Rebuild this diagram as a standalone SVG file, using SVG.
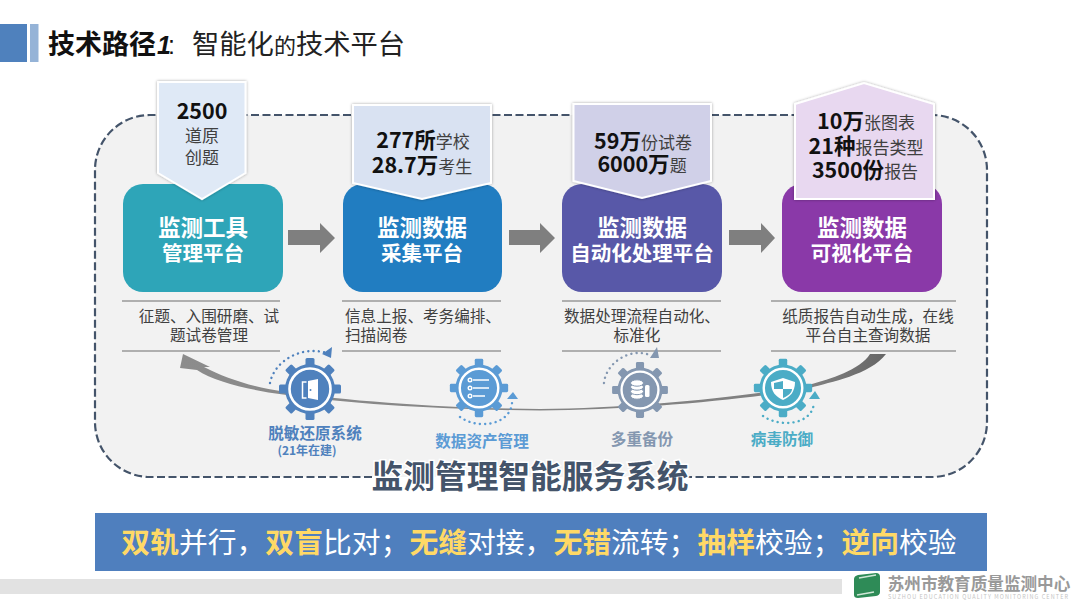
<svg xmlns="http://www.w3.org/2000/svg" xmlns:xlink="http://www.w3.org/1999/xlink" width="1080" height="608" viewBox="0 0 1080 608">
<style>
text{font-family:"Noto Sans CJK SC","Noto Sans",sans-serif;text-anchor:middle}
.nt{fill:#fff;font-weight:700}
.b{font-weight:700;fill:#111;font-size:21.500px}
.r{font-weight:400;fill:#404040;font-size:17px}
.call{stroke:#fff;stroke-width:2;filter:url(#sh)}
.d{font-size:15.6px;fill:#404040}
.rule{stroke:#999;stroke-width:1.6;fill:none}
.dots{fill:none;stroke-width:2.4;stroke-linecap:round;stroke-dasharray:.1 5.2}
.lab{font-weight:700;font-size:15.6px}
.y{fill:#ffd966;font-weight:700}
</style>
<defs>
<filter id="sh" x="-10%" y="-10%" width="120%" height="120%"><feDropShadow dx="0" dy="0" stdDeviation="1.4" flood-color="#000" flood-opacity=".35"/></filter>
<linearGradient id="tp" x1="0" x2="1" y1="0" y2="0"><stop offset="0" stop-color="#8c8c8c"/><stop offset=".9" stop-color="#7f7f7f"/><stop offset="1" stop-color="#666"/></linearGradient>
<g id="gear">
<g fill="currentColor">
<rect x="-4.5" y="-31" width="9" height="10" rx="1.5"/>
<rect x="-4.5" y="-31" width="9" height="10" rx="1.5" transform="rotate(45)"/>
<rect x="-4.5" y="-31" width="9" height="10" rx="1.5" transform="rotate(90)"/>
<rect x="-4.5" y="-31" width="9" height="10" rx="1.5" transform="rotate(135)"/>
<rect x="-4.5" y="-31" width="9" height="10" rx="1.5" transform="rotate(180)"/>
<rect x="-4.5" y="-31" width="9" height="10" rx="1.5" transform="rotate(225)"/>
<rect x="-4.5" y="-31" width="9" height="10" rx="1.5" transform="rotate(270)"/>
<rect x="-4.5" y="-31" width="9" height="10" rx="1.5" transform="rotate(315)"/>
<circle r="25"/>
</g>
<circle r="20.5" fill="currentColor" stroke="#fff" stroke-width="2.6"/>
</g>
</defs>

<rect width="1080" height="608" fill="#fff"/>
<g id="header">
<rect x="0" y="24" width="27" height="38" fill="#4f81bd"/>
<rect x="30" y="24" width="8.500" height="38" fill="#95b3d7"/>
<text y="54" style="text-anchor:start" fill="#111"><tspan x="48" font-size="27" font-weight="700">技术路径</tspan><tspan x="157" font-size="25" font-weight="700" font-style="italic" font-family="Liberation Sans">1</tspan><tspan x="168" font-size="25" font-family="Liberation Sans">:</tspan><tspan x="192" font-size="27.300" fill="#222">智能化</tspan><tspan font-size="22" fill="#222">的</tspan><tspan font-size="27.300" fill="#222">技术平台</tspan></text>
</g>

<path id="panel" d="M150 115H932A55 55 0 0 1 987 170V422A55 55 0 0 1 932 477H150A55 55 0 0 1 95 422V170A55 55 0 0 1 150 115Z" fill="#f2f2f2"/>
<path id="panel-border" d="M372 477H150A55 55 0 0 1 95 422V170A55 55 0 0 1 150 115H932A55 55 0 0 1 987 170V422A55 55 0 0 1 932 477H688" fill="none" stroke="#44546a" stroke-width="2.200" stroke-dasharray="8 3.500"/>

<g id="connectors">
<path id="c1" d="M288 230H320V223L335 238L320 253V245H288Z" fill="#7f7f7f"/>
<path id="c2" d="M509 230H540V223L555 238L540 253V245H509Z" fill="#7f7f7f"/>
<path id="c3" d="M729 230H761V223L775 238L761 253V245H729Z" fill="#7f7f7f"/>
<path id="c4" d="M870 354L886 354C870 375 830 382 810 388C760 398 640 410 540 410.500C450 410 350 404 283 394.500C250 390 215 382 197 370L180 368L183 354L210 367L204 367C225 378 255 388 283 391.500C350 401.500 450 408.500 540 409C640 408 760 395 810 384.500C830 379 860 370 870 354Z" fill="url(#tp)"/>
</g>

<g id="node1">
<rect x="123" y="184" width="160" height="108" rx="20" fill="#2ea5b8"/>
<text class="nt" x="203" y="236" font-size="22.500">监测工具</text>
<text class="nt" x="203" y="261" font-size="20.500">管理平台</text>
<path class="call" d="M158 82H245.500V173L202 199L158 173Z" fill="#dfe9f6"/>
<text class="b" x="202" y="119">2500</text>
<text class="r" x="202" y="142">道原</text>
<text class="r" x="202" y="164">创题</text>
<path class="rule" d="M122 301H280M122 351H280"/>
<text class="d" x="209" y="322">征题、入围研磨、试</text>
<text class="d" x="209" y="341">题试卷管理</text>
</g>

<g id="node2">
<rect x="343" y="184" width="159" height="108" rx="20" fill="#217dc1"/>
<text class="nt" x="422" y="236" font-size="22.500">监测数据</text>
<text class="nt" x="422" y="261" font-size="20.500">采集平台</text>
<path class="call" d="M353 105H491V183L422 199L353 183Z" fill="#d9e2f2"/>
<text x="423" y="148"><tspan class="b">277所</tspan><tspan class="r">学校</tspan></text>
<text x="422" y="173"><tspan class="b">28.7万</tspan><tspan class="r">考生</tspan></text>
<path class="rule" d="M342 301H501M342 351H501"/>
<text class="d" x="345" y="322" style="text-anchor:start">信息上报、考务编排、</text>
<text class="d" x="345" y="341" style="text-anchor:start">扫描阅卷</text>
</g>

<g id="node3">
<rect x="562" y="184" width="160" height="108" rx="20" fill="#5858a8"/>
<text class="nt" x="642" y="236" font-size="22.500">监测数据</text>
<text class="nt" x="642" y="261" font-size="20.500">自动化处理平台</text>
<path class="call" d="M573.500 104H711V181L642 198L573.500 181Z" fill="#d0d0e8"/>
<text x="643" y="149"><tspan class="b">59万</tspan><tspan class="r">份试卷</tspan></text>
<text x="642" y="172"><tspan class="b">6000万</tspan><tspan class="r">题</tspan></text>
<path class="rule" d="M562 301H721M562 351H721"/>
<text class="d" x="564" y="322" style="text-anchor:start">数据处理流程自动化、</text>
<text class="d" x="637" y="341">标准化</text>
</g>

<g id="node4">
<rect x="782" y="184" width="160" height="108" rx="20" fill="#8a39a8"/>
<text class="nt" x="862" y="236" font-size="22.500">监测数据</text>
<text class="nt" x="862" y="261" font-size="20.500">可视化平台</text>
<path class="call" d="M795 104L864 83L934 104V199H795Z" fill="#e8d8f0"/>
<text x="866" y="129"><tspan class="b">10万</tspan><tspan class="r">张图表</tspan></text>
<text x="866" y="154"><tspan class="b">21种</tspan><tspan class="r">报告类型</tspan></text>
<text x="865" y="178"><tspan class="b">3500份</tspan><tspan class="r">报告</tspan></text>
<path class="rule" d="M771 301H956M771 351H956"/>
<text class="d" x="868" y="322">纸质报告自动生成，在线</text>
<text class="d" x="868" y="341">平台自主查询数据</text>
</g>

<g id="sys1" color="#4f81bd">
<use xlink:href="#gear" href="#gear" transform="translate(310 389)"/>
<path d="M308 381L318 379V400L308 398Z" fill="#fff"/>
<path d="M306.500 382H302.500V398H306.500" fill="none" stroke="#fff" stroke-width="1.500"/>
<circle cx="310.500" cy="390" r="1" fill="#4f81bd"/>
<path class="dots" d="M270 383C274 362 300 345 327 353" stroke="#4f81bd"/>
<path d="M322 354L332 347L331 358Z" fill="#4f81bd"/>
<text class="lab" x="315" y="439" fill="#4f81bd">脱敏还原系统</text>
<text x="307" y="455" font-size="12" font-weight="700" fill="#4f81bd">(21年在建)</text>
</g>

<g id="sys2" color="#5b9bd5">
<use xlink:href="#gear" href="#gear" transform="translate(479 388) scale(.94)"/>
<g stroke="#fff" stroke-width="1.400" fill="none">
<path d="M473 380H489M473 388H489M473 396H485"/>
<circle cx="470" cy="380" r="1.800"/><circle cx="470" cy="388" r="1.800"/><circle cx="470" cy="396" r="1.800"/>
</g>
<path class="dots" d="M460 417C478 430 510 425 512 403" stroke="#5b9bd5"/>
<path d="M513 392L518 399H507Z" fill="#5b9bd5"/>
<text class="lab" x="482" y="447" fill="#5b9bd5">数据资产管理</text>
</g>

<g id="sys3" color="#8497b0">
<use xlink:href="#gear" href="#gear" transform="translate(640 390) scale(.9)"/>
<g fill="#fff" stroke="#8497b0" stroke-width="1"><ellipse cx="637" cy="396" rx="6.500" ry="3.200"/><ellipse cx="637" cy="391.500" rx="6.500" ry="3.200"/><ellipse cx="637" cy="387" rx="6.500" ry="3.200"/><ellipse cx="637" cy="383" rx="6.500" ry="3.200"/></g>
<rect x="645" y="385" width="4.500" height="12" rx="1.500" fill="#fff"/>
<path class="dots" d="M604 383C606 362 632 346 652 356" stroke="#8497b0"/>
<path d="M650 358L657 347L659 358Z" fill="#8497b0"/>
<text class="lab" x="642" y="445" fill="#8497b0">多重备份</text>
</g>

<g id="sys4" color="#4bacc6">
<use xlink:href="#gear" href="#gear" transform="translate(783 388) scale(.94)"/>
<path d="M783 378L795 382C795 392 790 397 783 400C776 397 771 392 771 382Z" fill="#fff"/>
<path d="M783 381V389H792C792 393 788 396 783 398V389H774V383Z" fill="#4bacc6"/>
<path class="dots" d="M763 416C780 428 812 425 814 403" stroke="#4bacc6"/>
<path d="M815 391L820 399H809Z" fill="#4bacc6"/>
<text class="lab" x="782" y="445" fill="#4bacc6">病毒防御</text>
</g>

<text id="system-title" x="530" y="488" font-size="31.700" font-weight="700" fill="#44546a" stroke="#fff" stroke-width="3" paint-order="stroke">监测管理智能服务系统</text>

<g id="banner">
<rect x="95" y="513" width="892" height="58" fill="#4f7fbe"/>
<text x="539" y="553" font-size="28.800" fill="#fff"><tspan class="y">双轨</tspan>并行，<tspan class="y">双盲</tspan>比对；<tspan class="y">无缝</tspan>对接，<tspan class="y">无错</tspan>流转；<tspan class="y">抽样</tspan>校验；<tspan class="y">逆向</tspan>校验</text>
</g>

<g id="footer">
<rect x="0" y="579" width="842" height="15" fill="#e2e2e2"/>
<path d="M854 579Q854 576 858 575L876 573Q880 573 880 577V592Q880 595 876 596L858 598Q854 598 854 595Z" fill="#2e8b57"/>
<path d="M859 578L876 575M857 595L874 592" stroke="#cfe6d6" stroke-width="1.500" fill="none"/>
<text x="979" y="590" font-size="16.600" font-weight="700" fill="#999">苏州市教育质量监测中心</text>
<text x="978" y="599" font-size="5.500" textLength="180" lengthAdjust="spacing" fill="#c4c4c4" font-family="Liberation Sans">SUZHOU EDUCATION QUALITY MONITORING CENTER</text>
</g>
</svg>
